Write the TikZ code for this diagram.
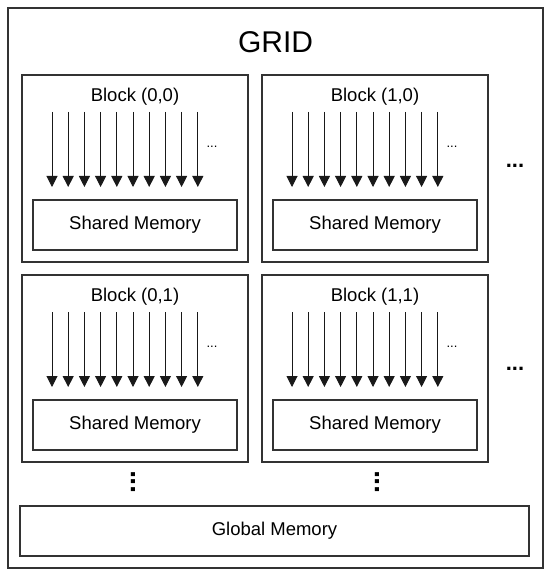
\documentclass[tikz,border=0pt]{standalone}
\usepackage{fontspec}
\setmainfont{Liberation Sans}
\usetikzlibrary{arrows.meta,calc,positioning}

\begin{document}
\begin{tikzpicture}[
    x=1pt, y=-1pt,
    font=\fontsize{18.5}{22}\selectfont,
    >={Triangle[length=11pt,width=11pt]},
    node distance=14pt and 14pt,
    frame/.style={
        draw=black!80,
        line width=1.1pt,
        outer sep=0pt,
        inner sep=0pt
    },
    blockbox/.style={
        frame,
        minimum width=226pt,
        minimum height=187pt
    },
    membox/.style={
        frame,
        minimum width=204pt,
        minimum height=50pt
    },
    thread/.style={->, line width=1pt, draw=black!90},
    smalldots/.style={font=\fontsize{13}{15}\selectfont, inner sep=0pt},
    bigdots/.style={font=\fontsize{22}{24}\selectfont\bfseries, inner sep=0pt},
    vdots/.style={font=\fontsize{28}{30}\selectfont\bfseries, inner sep=0pt, rotate=90}
]

\useasboundingbox (0,0) rectangle (550,577);

% outer grid frame
\node[frame, anchor=north west, minimum width=535pt, minimum height=560pt] (grid) at (8,8) {};
\node[font=\fontsize{30}{34}\selectfont] (gridlabel) at ($(grid.north)+(0,34)$) {GRID};

% blocks
\node[blockbox, anchor=north west] (b00) at (22,75) {};
\node[blockbox, right=of b00] (b10) {};
\node[blockbox, below=13pt of b00] (b01) {};
\node[blockbox, right=of b01] (b11) {};

\foreach \b/\name in {b00/{(0,0)}, b10/{(1,0)}, b01/{(0,1)}, b11/{(1,1)}} {
    \node (\b label) at ($(\b.north)+(0,22)$) {Block \name};
    \node[membox, above=12pt of \b.south] (\b mem) {Shared Memory};
    \foreach \i in {0,...,9} {
        \coordinate (\b t\i) at ($(\b.north west)+(30+16.2*\i,37)$);
        \coordinate (\b h\i) at ($(\b.north west)+(30+16.2*\i,112)$);
        \draw[thread] (\b t\i) -- (\b h\i);
    }
    \node[smalldots] (\b dots) at ($(\b.north west)+(190,72)$) {...};
}

% more blocks to the right and below
\node[bigdots] (rdots0) at ($(b10.east)+(27,-3)$) {...};
\node[bigdots] (rdots1) at ($(b11.east)+(27,0)$) {...};
\node[vdots] (ddots0) at ($(b01.south)+(-2,20)$) {...};
\node[vdots] (ddots1) at ($(b11.south)+(2,20)$) {...};

% global memory
\node[frame, minimum width=509pt, minimum height=50pt] (global) at (274.5,531) {Global Memory};

\end{tikzpicture}
\end{document}
